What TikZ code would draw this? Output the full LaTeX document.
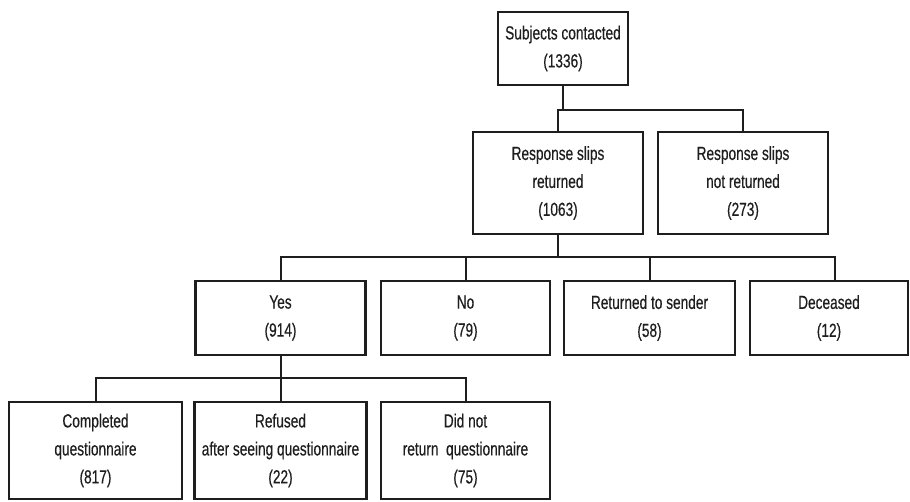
\documentclass[tikz,border=0pt]{standalone}
\usepackage{fontspec}
\setmainfont{Liberation Sans}[FakeStretch=0.72,FakeBold=0.4]
\definecolor{ink}{HTML}{1E1E1E}
\begin{document}
\begin{tikzpicture}[x=1pt,y=-1pt,
  box/.style={draw=ink, line width=2.4pt, inner sep=0pt, outer sep=0pt,
    align=center, text=ink, font=\fontsize{19}{28}\selectfont},
  link/.style={draw=ink, line width=2pt}]
\useasboundingbox (0,0) rectangle (910,502);
% level 1
\node[box, minimum width=130pt, minimum height=73pt] (top) at (563,48.5) {Subjects contacted\\(1336)};
% level 2
\node[box, minimum width=170pt, minimum height=102pt] (ret) at (558,183) {Response slips\\returned\\(1063)};
\node[box, minimum width=170pt, minimum height=102pt] (notret) at (743,183) {Response slips\\not returned\\(273)};
% level 3
\node[box, minimum width=170pt, minimum height=74pt] (yes) at (280.5,318) {Yes\\(914)};
\node[box, minimum width=169pt, minimum height=74pt] (no) at (465.5,318) {No\\(79)};
\node[box, minimum width=171pt, minimum height=74pt] (rts) at (649.5,318) {Returned to sender\\(58)};
\node[box, minimum width=158pt, minimum height=74pt] (dec) at (829,318) {Deceased\\(12)};
% level 4
\node[box, minimum width=173pt, minimum height=97pt] (comp) at (95.5,450.5) {Completed\\questionnaire\\(817)};
\node[box, minimum width=172pt, minimum height=97pt] (ref) at (280.5,450.5) {Refused\\after seeing questionnaire\\(22)};
\node[box, minimum width=169pt, minimum height=97pt] (dnr) at (465.5,450.5) {Did not\\return\ \ questionnaire\\(75)};
% buses
\coordinate (busA) at (0,110);
\coordinate (busB) at (0,257);
\coordinate (busC) at (0,378);
\coordinate (decTop) at ([xshift=6pt]dec.north);
% connectors
\draw[link] (top.south) -- (top.south |- busA);
\draw[link] (ret.north) -- (ret.north |- busA) -- (notret.north |- busA) -- (notret.north);
\draw[link] (ret.south) -- (ret.south |- busB);
\draw[link] (yes.north) -- (yes.north |- busB) -- (decTop |- busB) -- (decTop);
\draw[link] (no.north) -- (no.north |- busB);
\draw[link] (rts.north) -- (rts.north |- busB);
\draw[link] (yes.south) -- (ref.north);
\draw[link] (comp.north) -- (comp.north |- busC) -- (dnr.north |- busC) -- (dnr.north);
\end{tikzpicture}
\end{document}
